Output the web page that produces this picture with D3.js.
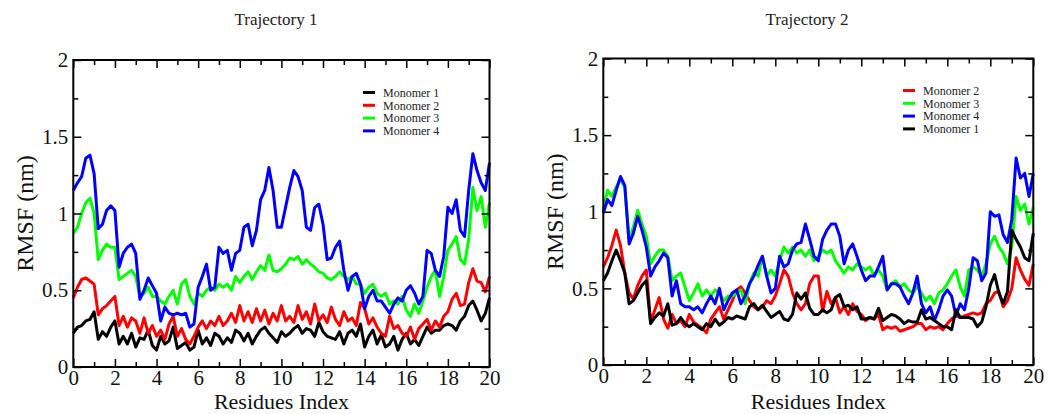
<!DOCTYPE html>
<html>
<head>
<meta charset="utf-8">
<script src="https://cdn.jsdelivr.net/npm/d3@7"></script>
<style>
  body { margin: 0; background: #fff; }
  svg { display: block; }
</style>
</head>
<body>
<div id="chart"></div>
<script>
// residue index axis, sampled every 0.2
var residues = d3.range(0, 101).map(function(i) { return +(i * 0.2).toFixed(1); });

// Trajectory 1
var t1Mono1 = [0.22,0.26,0.27,0.3,0.31,0.36,0.18,0.23,0.2,0.26,
  0.3,0.15,0.2,0.15,0.22, 0.13,0.19,0.18,0.24,0.14, 0.11,0.2,0.15,0.17,0.26,
  0.12,0.14,0.16,0.11,0.13, 0.24,0.15,0.19,0.14,0.22, 0.2,0.15,0.19,0.16,0.24,
  0.22,0.17,0.22,0.15,0.2, 0.24,0.26,0.22,0.19,0.16, 0.23,0.2,0.22,0.25,0.27,
  0.22,0.25,0.24,0.2,0.29, 0.23,0.2,0.19,0.18,0.23, 0.15,0.22,0.24,0.2,0.28,
  0.13,0.2,0.24,0.15,0.21, 0.13,0.15,0.2,0.11,0.18, 0.22,0.15,0.18,0.14,0.2,
  0.26,0.22,0.24,0.24,0.27, 0.28,0.27,0.24,0.3,0.33, 0.4,0.43,0.37,0.3,0.35, 0.45];
var t1Mono2 = [0.45,0.52,0.57,0.58,0.56,0.54,0.34,0.38,0.4,0.43,
  0.46,0.27,0.33,0.26,0.32, 0.3,0.22,0.32,0.22,0.27, 0.2,0.24,0.18,0.28,0.33,
  0.2,0.25,0.18,0.15,0.2, 0.26,0.3,0.25,0.3,0.27, 0.33,0.27,0.3,0.35,0.29,
  0.4,0.3,0.36,0.29,0.38, 0.3,0.37,0.28,0.35,0.3, 0.4,0.3,0.33,0.29,0.4,
  0.31,0.36,0.28,0.41,0.3, 0.34,0.29,0.39,0.31,0.27, 0.36,0.3,0.32,0.27,0.42,
  0.38,0.28,0.32,0.26,0.22, 0.2,0.33,0.25,0.27,0.22, 0.2,0.26,0.18,0.25,0.28,
  0.31,0.24,0.3,0.26,0.33, 0.36,0.44,0.48,0.4,0.41, 0.55,0.64,0.56,0.55,0.49, 0.59];
var t1Mono3 = [0.87,0.91,1.0,1.07,1.1,1.0,0.7,0.76,0.8,0.78,
  0.78,0.57,0.59,0.61,0.63, 0.59,0.46,0.48,0.52,0.46, 0.46,0.43,0.41,0.46,0.5,
  0.41,0.54,0.57,0.46,0.41, 0.48,0.46,0.5,0.52,0.5, 0.54,0.52,0.54,0.5,0.59,
  0.55,0.59,0.62,0.57,0.62, 0.66,0.63,0.73,0.63,0.62, 0.64,0.67,0.71,0.7,0.72,
  0.67,0.7,0.67,0.65,0.62, 0.61,0.58,0.57,0.59,0.62, 0.59,0.57,0.59,0.54,0.54,
  0.48,0.52,0.54,0.48,0.46, 0.48,0.41,0.43,0.41,0.46, 0.37,0.33,0.41,0.35,0.43,
  0.52,0.59,0.63,0.46,0.59, 0.76,0.8,0.85,0.7,0.67, 0.83,1.17,1.02,1.11,0.91, 1.07];
var t1Mono4 = [1.15,1.2,1.24,1.36,1.38,1.26,0.9,0.93,1.02,1.05,
  1.02,0.65,0.74,0.78,0.8, 0.74,0.44,0.5,0.58,0.53, 0.48,0.3,0.39,0.35,0.34,
  0.35,0.34,0.35,0.26,0.28, 0.52,0.59,0.67,0.5,0.52, 0.78,0.74,0.76,0.63,0.74,
  0.76,0.91,0.93,0.79,0.89, 1.09,1.15,1.3,1.15,0.91, 0.91,1.04,1.17,1.28,1.24,
  1.15,0.91,0.89,1.04,1.06, 0.93,0.7,0.71,0.78,0.82, 0.63,0.5,0.59,0.61,0.54,
  0.38,0.46,0.5,0.43,0.43, 0.39,0.35,0.41,0.45,0.43, 0.5,0.53,0.48,0.41,0.46,
  0.76,0.74,0.63,0.59,0.72, 1.04,1.0,1.09,0.89,0.85, 1.15,1.39,1.28,1.2,1.15, 1.33];

// Trajectory 2
var t2Mono1 = [0.55,0.6,0.68,0.75,0.68,0.6,0.4,0.42,0.47,0.52,
  0.55,0.27,0.31,0.34,0.32, 0.4,0.26,0.27,0.31,0.27, 0.25,0.27,0.25,0.23,0.27,
  0.25,0.3,0.26,0.28,0.31, 0.3,0.32,0.31,0.3,0.38, 0.4,0.36,0.39,0.35,0.31,
  0.33,0.35,0.3,0.29,0.33, 0.47,0.43,0.47,0.37,0.33, 0.33,0.36,0.34,0.36,0.44,
  0.46,0.38,0.39,0.36,0.38, 0.3,0.3,0.31,0.3,0.37, 0.29,0.31,0.33,0.32,0.3,
  0.27,0.29,0.28,0.28,0.36, 0.3,0.31,0.29,0.27,0.25, 0.25,0.23,0.36,0.31,0.31,
  0.31,0.3,0.25,0.28,0.38, 0.52,0.59,0.47,0.4,0.48, 0.88,0.82,0.77,0.7,0.68, 0.86];
var t2Mono2 = [0.64,0.7,0.78,0.88,0.78,0.6,0.47,0.43,0.52,0.58,
  0.62,0.28,0.36,0.44,0.3, 0.24,0.33,0.27,0.29,0.25, 0.33,0.28,0.26,0.24,0.21,
  0.3,0.34,0.38,0.3,0.36, 0.42,0.49,0.51,0.47,0.42, 0.38,0.36,0.38,0.42,0.4,
  0.45,0.53,0.62,0.58,0.47, 0.4,0.36,0.4,0.53,0.58, 0.58,0.35,0.48,0.4,0.44,
  0.34,0.38,0.33,0.4,0.35, 0.33,0.29,0.31,0.3,0.33, 0.23,0.25,0.24,0.25,0.22,
  0.23,0.24,0.25,0.27,0.27, 0.23,0.25,0.24,0.25,0.23, 0.27,0.3,0.32,0.31,0.32,
  0.33,0.34,0.33,0.34,0.4, 0.42,0.47,0.48,0.38,0.42, 0.5,0.7,0.62,0.56,0.52, 0.66];
var t2Mono3 = [1.01,1.14,1.1,1.16,1.21,1.16,0.82,0.9,1.01,0.92,
  0.84,0.66,0.71,0.75,0.75, 0.71,0.55,0.58,0.6,0.51, 0.42,0.47,0.53,0.45,0.49,
  0.45,0.49,0.47,0.42,0.45, 0.45,0.47,0.49,0.4,0.53, 0.6,0.58,0.71,0.58,0.62,
  0.58,0.68,0.77,0.73,0.77, 0.73,0.75,0.71,0.75,0.68, 0.71,0.75,0.73,0.75,0.68,
  0.64,0.6,0.64,0.62,0.66, 0.64,0.62,0.64,0.58,0.62, 0.58,0.49,0.53,0.55,0.51,
  0.53,0.49,0.47,0.51,0.47, 0.42,0.45,0.4,0.47,0.49, 0.53,0.58,0.62,0.51,0.45,
  0.62,0.64,0.62,0.58,0.66, 0.79,0.84,0.77,0.73,0.66, 0.77,1.1,1.01,1.05,0.92, 1.03];
var t2Mono4 = [0.99,1.08,1.04,1.14,1.23,1.17,0.79,0.86,0.97,0.88,
  0.77,0.58,0.64,0.68,0.73, 0.7,0.45,0.55,0.4,0.38, 0.38,0.36,0.38,0.34,0.4,
  0.45,0.4,0.5,0.36,0.42, 0.47,0.49,0.4,0.45,0.53, 0.58,0.65,0.71,0.58,0.47,
  0.5,0.71,0.64,0.66,0.75, 0.79,0.8,0.92,0.82,0.71, 0.68,0.82,0.88,0.92,0.92,
  0.84,0.66,0.75,0.79,0.71, 0.62,0.55,0.58,0.58,0.64, 0.71,0.49,0.53,0.53,0.51,
  0.45,0.4,0.47,0.58,0.4, 0.34,0.38,0.29,0.36,0.45, 0.49,0.45,0.32,0.4,0.36,
  0.5,0.7,0.68,0.55,0.6, 1.0,0.97,0.98,0.85,0.8, 0.95,1.35,1.22,1.25,1.1, 1.25];

var xTicks = [0, 2, 4, 6, 8, 10, 12, 14, 16, 18, 20];
var yTicks = [0, 0.5, 1, 1.5, 2];

var fullWidth = 1049;
var fullHeight = 414;
var font = '"Liberation Serif", "Times New Roman", serif';

var svg = d3.select('#chart').append('svg')
  .attr('width', fullWidth)
  .attr('height', fullHeight);

var panels = [
  {
    title: 'Trajectory 1', titleX: 276,
    left: 73.3, right: 489.5, top: 60, bottom: 367,
    series: [
      {name: 'Monomer 1', values: t1Mono1, color: '#000000'},
      {name: 'Monomer 2', values: t1Mono2, color: '#ff0000'},
      {name: 'Monomer 3', values: t1Mono3, color: '#00ff00'},
      {name: 'Monomer 4', values: t1Mono4, color: '#0000ff'}
    ],
    legendX: 363, legendY: 92.5
  },
  {
    title: 'Trajectory 2', titleX: 807,
    left: 603.3, right: 1033.3, top: 58.5, bottom: 365,
    series: [
      {name: 'Monomer 2', values: t2Mono2, color: '#ff0000'},
      {name: 'Monomer 3', values: t2Mono3, color: '#00ff00'},
      {name: 'Monomer 4', values: t2Mono4, color: '#0000ff'},
      {name: 'Monomer 1', values: t2Mono1, color: '#000000'}
    ],
    legendX: 903, legendY: 90.5
  }
];

panels.forEach(function(p) {
  var width = p.right - p.left;
  var height = p.bottom - p.top;

  var x = d3.scaleLinear().domain([0, 20]).range([0, width]);
  var y = d3.scaleLinear().domain([0, 2]).range([height, 0]);

  var g = svg.append('g')
    .attr('transform', 'translate(' + p.left + ',' + p.top + ')');

  // data lines
  var line = d3.line()
    .x(function(d, i) { return x(residues[i]); })
    .y(function(d) { return y(d); });

  p.series.forEach(function(s) {
    g.append('path')
      .datum(s.values)
      .attr('fill', 'none')
      .attr('stroke', s.color)
      .attr('stroke-width', 3)
      .attr('stroke-linejoin', 'round')
      .attr('d', line);
  });

  // ticks pointing inward on all four sides
  var minorX = d3.range(1, 20, 2);
  var minorY = [0.25, 0.75, 1.25, 1.75];

  function styleAxis(sel) {
    sel.select('.domain').remove();
    sel.selectAll('line').attr('stroke', '#000').attr('stroke-width', 1.5);
    sel.selectAll('text')
      .style('font-family', font)
      .style('font-size', '21px')
      .attr('fill', '#111');
  }

  g.append('g')
    .attr('transform', 'translate(0,' + height + ')')
    .call(d3.axisBottom(x).tickValues(xTicks).tickSize(-8).tickPadding(3)
      .tickFormat(d3.format('d')))
    .call(styleAxis);
  g.append('g')
    .attr('transform', 'translate(0,' + height + ')')
    .call(d3.axisBottom(x).tickValues(minorX).tickSize(-5).tickFormat(''))
    .call(styleAxis);
  g.append('g')
    .call(d3.axisTop(x).tickValues(xTicks).tickSize(-8).tickFormat(''))
    .call(styleAxis);
  g.append('g')
    .call(d3.axisTop(x).tickValues(minorX).tickSize(-5).tickFormat(''))
    .call(styleAxis);

  g.append('g')
    .call(d3.axisLeft(y).tickValues(yTicks).tickSize(-8).tickPadding(5)
      .tickFormat(function(d) { return d; }))
    .call(styleAxis);
  g.append('g')
    .call(d3.axisLeft(y).tickValues(minorY).tickSize(-5).tickFormat(''))
    .call(styleAxis);
  g.append('g')
    .attr('transform', 'translate(' + width + ',0)')
    .call(d3.axisRight(y).tickValues(yTicks).tickSize(-8).tickFormat(''))
    .call(styleAxis);
  g.append('g')
    .attr('transform', 'translate(' + width + ',0)')
    .call(d3.axisRight(y).tickValues(minorY).tickSize(-5).tickFormat(''))
    .call(styleAxis);

  // frame
  g.append('rect')
    .attr('width', width)
    .attr('height', height)
    .attr('fill', 'none')
    .attr('stroke', '#000')
    .attr('stroke-width', 2);

  // legend
  var legend = svg.append('g')
    .attr('transform', 'translate(' + p.legendX + ',' + p.legendY + ')');
  p.series.forEach(function(s, i) {
    var row = legend.append('g').attr('transform', 'translate(0,' + (i * 12.8) + ')');
    row.append('line')
      .attr('x1', 0).attr('x2', 12)
      .attr('stroke', s.color)
      .attr('stroke-width', 3);
    row.append('text')
      .attr('x', 20)
      .attr('dy', '0.35em')
      .style('font-family', font)
      .style('font-size', '12px')
      .attr('fill', '#222')
      .text(s.name);
  });

  // titles
  svg.append('text')
    .attr('x', p.titleX)
    .attr('y', 25)
    .attr('text-anchor', 'middle')
    .style('font-family', font)
    .style('font-size', '17px')
    .attr('fill', '#222')
    .text(p.title);

  svg.append('text')
    .attr('x', p.left + width / 2)
    .attr('y', 408.5)
    .attr('text-anchor', 'middle')
    .style('font-family', font)
    .style('font-size', '22px')
    .attr('fill', '#111')
    .text('Residues Index');

  svg.append('text')
    .attr('transform', 'translate(' + (p.left - 40.5) + ',' + (p.top + height / 2) + ') rotate(-90)')
    .attr('text-anchor', 'middle')
    .style('font-family', font)
    .style('font-size', '24px')
    .attr('fill', '#111')
    .text('RMSF (nm)');
});
</script>
</body>
</html>
